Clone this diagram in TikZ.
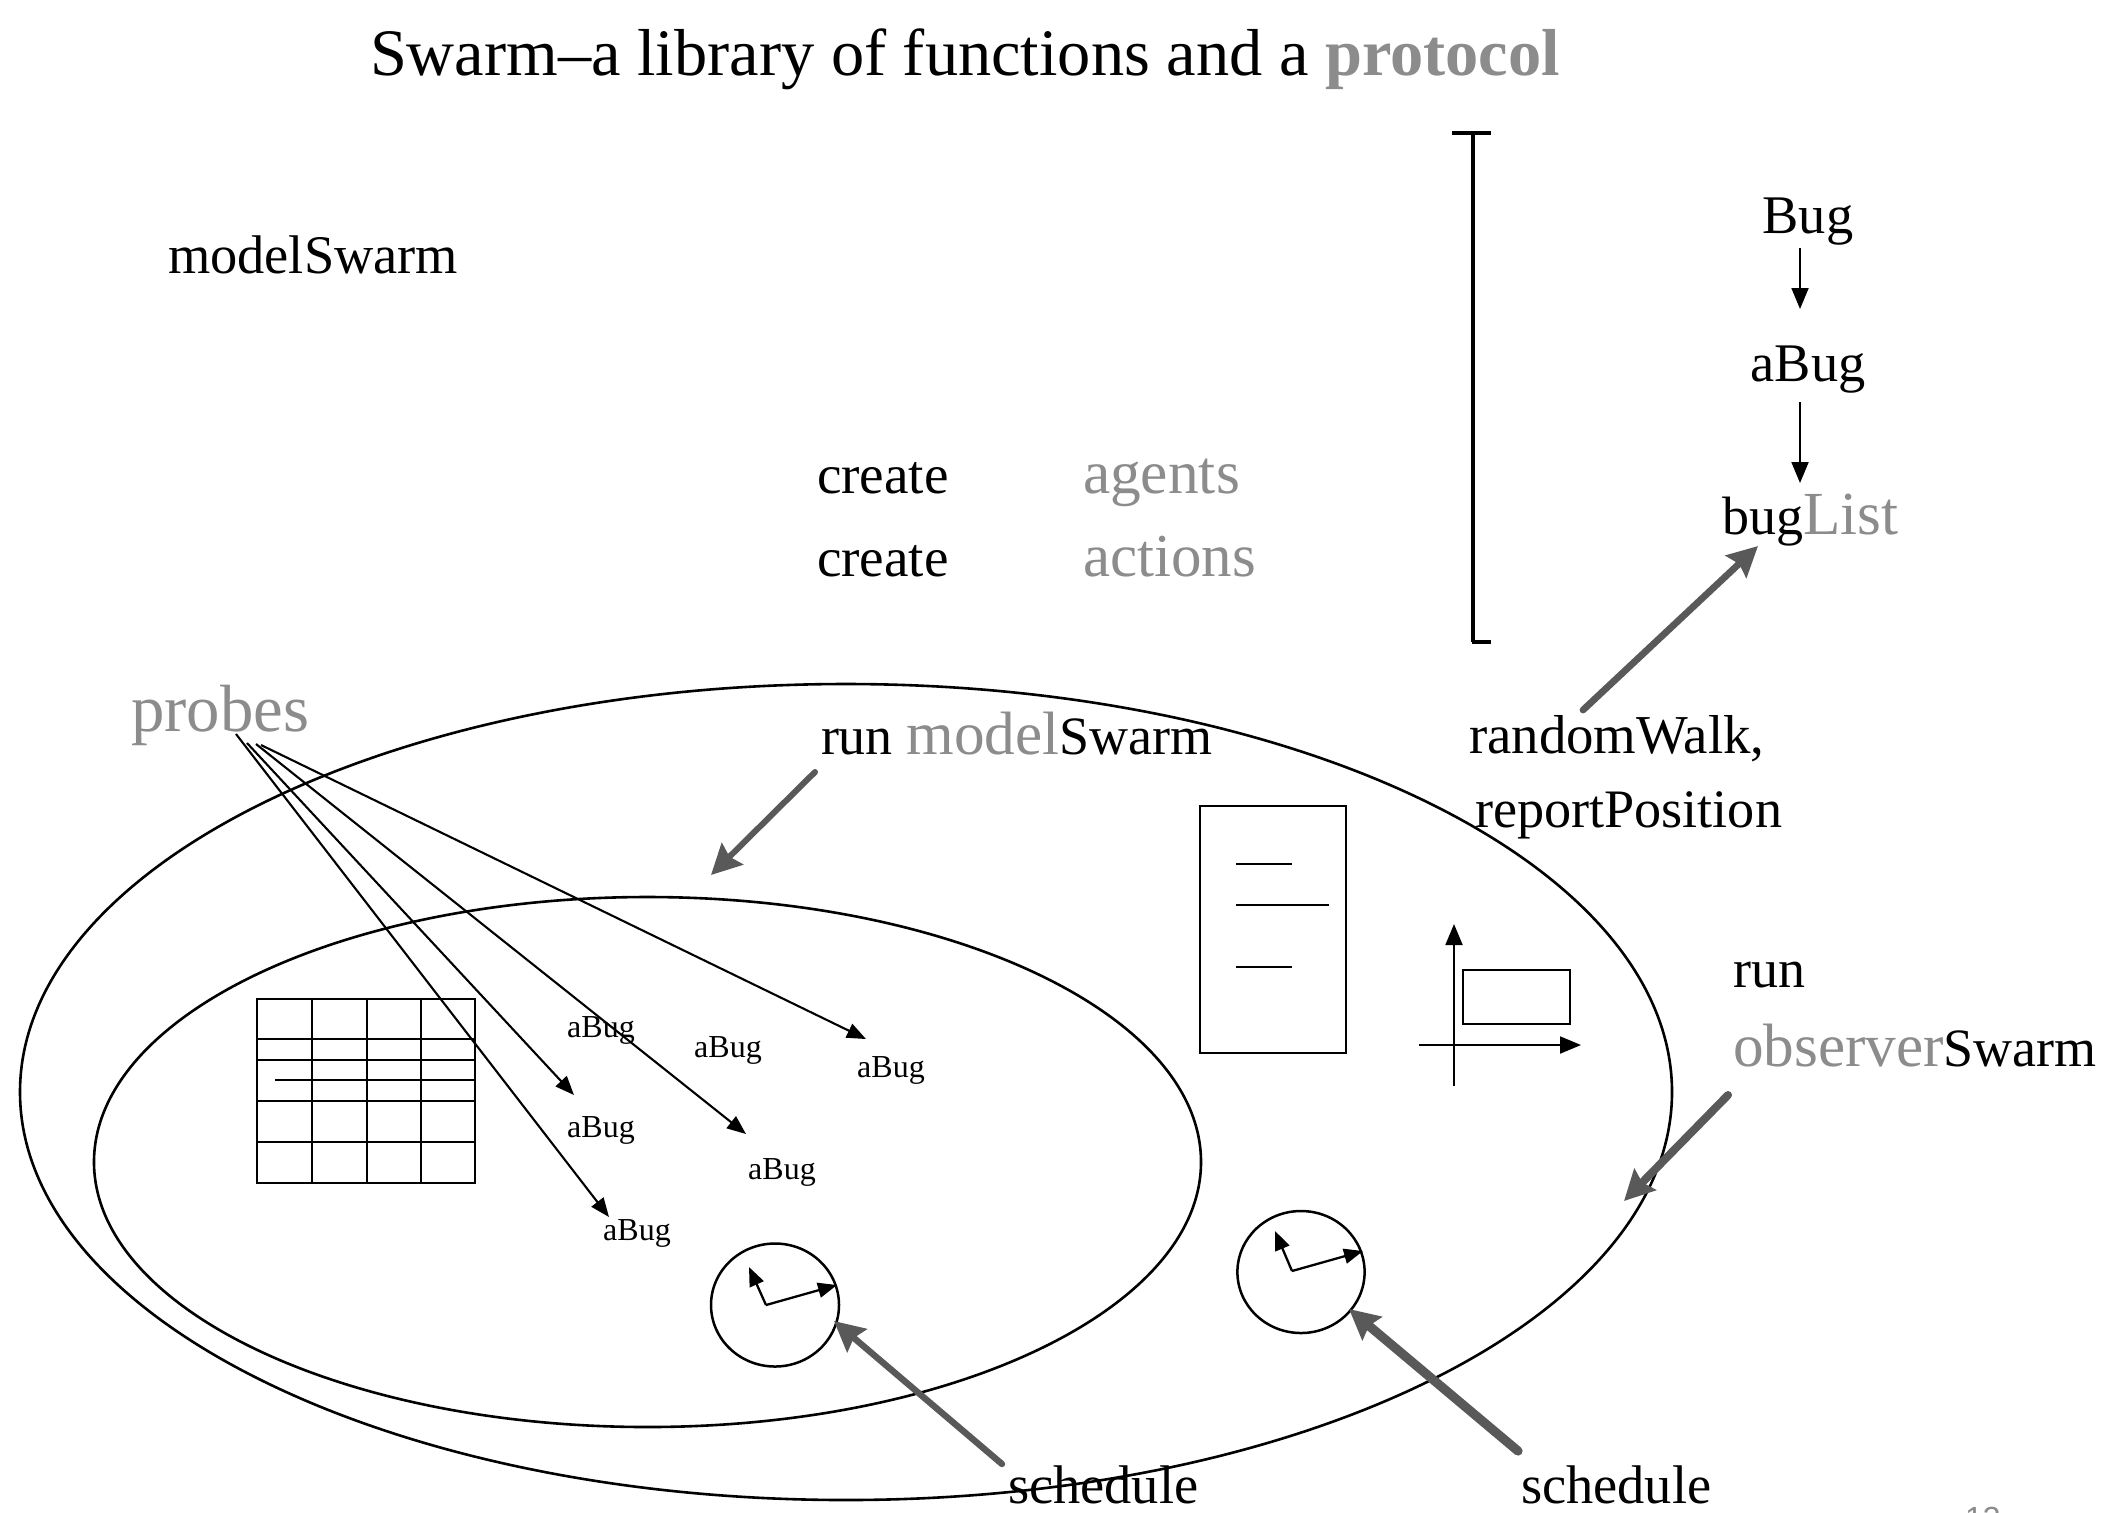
\documentclass[tikz,border=0pt]{standalone}
\usepackage{fontspec}
\setmainfont{Liberation Serif}
\newfontfamily\pagefont{Liberation Sans}
\usetikzlibrary{arrows.meta}
\definecolor{softgray}{HTML}{8C8C8C}
\definecolor{arrowgray}{HTML}{595959}
\newcommand{\fs}[1]{\fontsize{#1}{#1}\selectfont}
\newcommand{\grayword}[1]{{\fs{30.6}\textcolor{softgray}{#1}}}
\tikzset{
  lbl/.style={inner sep=0pt, outer sep=0pt, anchor=base west, font=\fs{27.2}},
  bug/.style={inner sep=0pt, outer sep=0pt, anchor=base, font=\fs{16}},
  line/.style={draw=black, line width=1.25pt},
  probe/.style={line, line width=1.05pt, -{Triangle[length=9.5pt,width=7.5pt]}},
  thin arrow/.style={line, line width=1pt, -{Triangle[length=10.5pt,width=8.5pt]}},
  hand/.style={line, line width=1.15pt, -{Triangle[length=9.5pt,width=7.5pt]}},
  callout/.style={draw=arrowgray, line cap=round, line width=#1, -{Stealth[length=15pt,width=15pt,inset=2pt]}},
  callout/.default=3.5pt
}
\begin{document}
\begin{tikzpicture}[x=0.5pt,y=-0.5pt]
\path[use as bounding box, fill=white] (0,0) rectangle (2128,1512);
\clip (0,0) rectangle (2128,1512);

% title
\node[lbl, font=\fs{33.2}] (title) at (370,75) {Swarm–a library of functions and a \textbf{\textcolor{softgray}{protocol}}};
\node[lbl] (modelswarm) at (168,273) {modelSwarm};
\node[lbl, font=\fs{27.6}] (create1) at (817,493) {create};
\node[lbl, font=\fs{27.6}] (create2) at (817,576) {create};
\node[lbl, font=\fs{30.7}, text=softgray] (agents) at (1083,493) {agents};
\node[lbl, font=\fs{30.5}, text=softgray] (actions) at (1083,576) {actions};

% bracket
\draw[line width=2.4pt] (1452,133) -- (1491,133);
\draw[line width=1.9pt] (1473,133) -- (1473,642);
\draw[line width=2.4pt] (1472,642) -- (1491,642);

% bug chain
\node[lbl, anchor=base] (bugc) at (1808,233) {Bug};
\node[lbl, anchor=base] (abug) at (1808,381) {aBug};
\node[lbl, font=\fs{27}] (buglist) at (1722,534) {bug\grayword{List}};
\coordinate (b1) at (1800,248);
\coordinate (b2) at (1800,309);
\coordinate (b3) at (1800,402);
\coordinate (b4) at (1800,483);
\draw[thin arrow] (b1) -- (b2);
\draw[thin arrow] (b3) -- (b4);

% ellipses
\draw[line width=1.3pt] (846,1092) ellipse [x radius=826, y radius=408];
\draw[line width=1.3pt] (647.5,1162) ellipse [x radius=553.5, y radius=265];

% table
\draw[line] (257,999) rectangle (475,1183);
\foreach \x in {312,367,421} \draw[line] (\x,999) -- (\x,1183);
\foreach \y in {1039,1060,1101,1142} \draw[line] (257,\y) -- (475,\y);
\draw[line] (275,1080) -- (475,1080);

% labels of bugs
\node[bug] (a1) at (601,1037) {aBug};
\node[bug] (a2) at (728,1057) {aBug};
\node[bug] (a3) at (891,1077) {aBug};
\node[bug] (a4) at (601,1137) {aBug};
\node[bug] (a5) at (782,1179) {aBug};
\node[bug] (a6) at (637,1240) {aBug};

% probes
\node[lbl, font=\fs{33.4}, text=softgray] (probes) at (131,731) {probes};
\coordinate (p1) at (236,734);
\coordinate (p2) at (247,743);
\coordinate (p3) at (256,744);
\coordinate (p4) at (261,745);
\coordinate (pa1) at (609,1217);
\coordinate (pa2) at (574,1095);
\coordinate (pa3) at (746,1134);
\coordinate (pa4) at (866,1039);
\draw[probe] (p1) -- (pa1);
\draw[probe] (p2) -- (pa2);
\draw[probe] (p3) -- (pa3);
\draw[probe] (p4) -- (pa4);

% clocks
\draw[line] (775,1305) ellipse [x radius=64, y radius=61.5];
\coordinate (c1) at (766,1305);
\coordinate (c1a) at (837,1285);
\coordinate (c1b) at (749,1267);
\draw[hand] (c1) -- (c1a);
\draw[hand] (c1) -- (c1b);
\draw[line] (1301,1272) ellipse [x radius=63.6, y radius=61];
\coordinate (c2) at (1292,1271);
\coordinate (c2a) at (1363,1251);
\coordinate (c2b) at (1275,1231);
\draw[hand] (c2) -- (c2a);
\draw[hand] (c2) -- (c2b);

% report
\draw[line] (1200,806) rectangle (1346,1053);
\draw[line] (1236,864) -- (1292,864);
\draw[line] (1236,905) -- (1329,905);
\draw[line] (1236,967) -- (1292,967);

% chart
\coordinate (v0) at (1454,1086);
\coordinate (v1) at (1454,924);
\coordinate (h0) at (1419,1045);
\coordinate (h1) at (1581,1045);
\draw[thin arrow] (v0) -- (v1);
\draw[thin arrow] (h0) -- (h1);
\draw[line] (1463,970) rectangle (1570,1024);

% text in the lower part
\node[lbl, font=\fs{27}] (runmodel) at (821,754) {run \grayword{model}Swarm};
\node[lbl, font=\fs{27.4}] (rw) at (1469,753) {randomWalk,};
\node[lbl, font=\fs{27.1}] (rp) at (1475,827) {reportPosition};
\node[lbl, font=\fs{27}] (run) at (1733,987) {run};
\node[lbl, font=\fs{27}] (obs) at (1733,1066) {\grayword{observer}Swarm};
\node[lbl, font=\fs{27.2}] (s1) at (1008,1503) {schedule};
\node[lbl, font=\fs{27.2}] (s2) at (1521,1503) {schedule};
\node[lbl, font=\pagefont\fs{16}, text=softgray] (pg) at (1965,1529) {13};

% grey callouts
\coordinate (ra) at (1583,710);
\coordinate (rb) at (1758,546);
\coordinate (ma) at (815,772);
\coordinate (mb) at (711,875);
\coordinate (oa) at (1728,1095);
\coordinate (ob) at (1624,1201);
\coordinate (sa) at (1002,1464);
\coordinate (sb) at (834,1321);
\coordinate (ta) at (1518,1451);
\coordinate (tb) at (1349,1309);
\draw[callout=3.4pt] (ra) -- (rb);
\draw[callout=3pt] (ma) -- (mb);
\draw[callout=4pt] (oa) -- (ob);
\draw[callout=3.2pt] (sa) -- (sb);
\draw[callout=4.6pt] (ta) -- (tb);
\end{tikzpicture}
\end{document}
